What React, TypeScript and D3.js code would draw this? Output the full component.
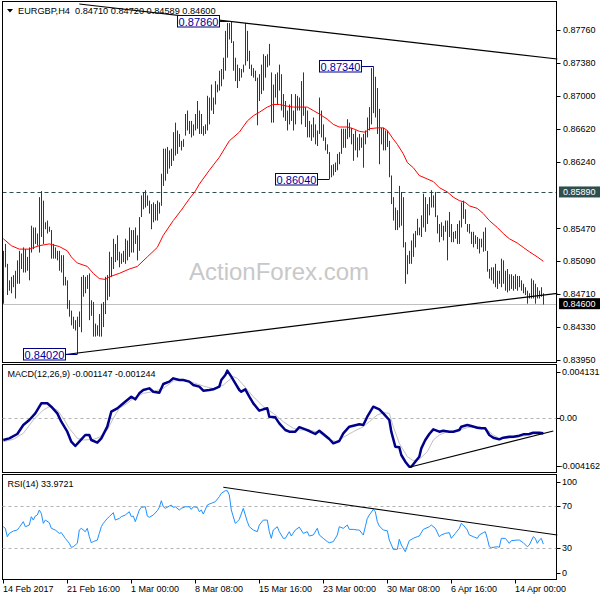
import React from 'react';
import * as d3 from 'd3';

// ---- price bars (H4 EURGBP), high / low of each bar ----
const highs = [
0.8521,0.8529,0.8506,0.8487,0.8491,0.8493,0.8498,0.8510,0.8521,0.8518,
0.8525,0.8523,0.8514,0.8525,0.8550,0.8548,0.8548,0.8541,0.8583,0.8590,
0.8579,0.8554,0.8556,0.8549,0.8545,0.8529,0.8525,0.8521,0.8521,0.8516,
0.8516,0.8491,0.8487,0.8464,0.8452,0.8445,0.8441,0.8445,0.8451,0.8491,
0.8493,0.8491,0.8493,0.8495,0.8464,0.8462,0.8437,0.8435,0.8448,0.8460,
0.8462,0.8491,0.8493,0.8520,0.8514,0.8535,0.8529,0.8539,0.8520,0.8518,
0.8521,0.8535,0.8533,0.8548,0.8545,0.8545,0.8548,0.8539,0.8560,0.8585,
0.8589,0.8591,0.8585,0.8579,0.8575,0.8577,0.8575,0.8579,0.8577,0.8610,
0.8639,0.8639,0.8641,0.8637,0.8639,0.8658,0.8669,0.8660,0.8656,0.8648,
0.8650,
0.8679,0.8683,0.8671,0.8671,0.8667,0.8679,0.8694,0.8683,0.8679,0.8665,
0.8667,0.8700,0.8698,0.8713,0.8698,0.8717,0.8713,0.8729,0.8731,0.8744,
0.8775,0.8784,0.8784,0.8786,0.8763,0.8744,0.8736,0.8732,0.8731,0.8736,
0.8784,0.8775,0.8752,0.8736,0.8732,0.8729,0.8721,0.8725,0.8736,0.8748,
0.8746,0.8748,0.8760,0.8727,0.8713,0.8725,0.8727,0.8736,0.8725,0.8702,
0.8694,0.8683,0.8690,0.8702,0.8683,0.8702,0.8700,0.8698,0.8717,0.8727,
0.8687,0.8683,0.8671,0.8667,0.8675,0.8667,0.8660,0.8698,0.8683,0.8667,
0.8652,0.8644,0.8635,0.8620,0.8621,0.8623,0.8633,0.8635,0.8662,0.8662,
0.8662,0.8673,0.8669,0.8663,0.8656,0.8660,0.8652,0.8656,0.8652,0.8656,
0.8660,0.8675,0.8687,0.8732,0.8734,0.8722,0.8709,0.8685,
0.8663,0.8663,0.8660,0.8660,0.8648,0.8608,0.8583,0.8571,0.8568,0.8596,
0.8589,0.8583,0.8531,0.8516,0.8521,0.8533,0.8541,0.8544,0.8558,0.8548,
0.8562,0.8587,0.8583,0.8575,0.8583,0.8591,0.8585,0.8589,0.8562,0.8552,
0.8554,0.8550,0.8556,0.8556,0.8566,0.8552,0.8543,0.8544,0.8552,0.8556,
0.8577,0.8579,0.8569,0.8552,0.8552,0.8543,0.8543,0.8539,0.8537,0.8535,
0.8535,0.8543,0.8548,0.8521,0.8500,0.8502,0.8502,0.8506,0.8498,0.8498,
0.8512,0.8510,0.8498,0.8500,0.8494,0.8494,0.8492,0.8494,0.8492,0.8492,
0.8487,0.8483,0.8479,0.8475,0.8472,0.8489,0.8487,0.8483,0.8479,0.8475,
0.8479,0.8472];
const lows = [
0.8460,0.8502,0.8470,0.8475,0.8472,0.8479,0.8466,0.8483,0.8483,0.8500,
0.8496,0.8496,0.8498,0.8487,0.8519,0.8523,0.8529,0.8527,0.8519,0.8537,
0.8529,0.8546,0.8541,0.8543,0.8512,0.8512,0.8512,0.8510,0.8498,0.8496,
0.8481,0.8481,0.8454,0.8445,0.8435,0.8431,0.8429,0.8402,0.8433,0.8427,
0.8468,0.8472,0.8477,0.8441,0.8446,0.8422,0.8422,0.8423,0.8422,0.8422,
0.8433,0.8448,0.8464,0.8468,0.8491,0.8500,0.8508,0.8510,0.8502,0.8506,
0.8508,0.8506,0.8510,0.8514,0.8519,0.8519,0.8529,0.8510,0.8521,0.8560,
0.8569,0.8571,0.8573,0.8564,0.8546,0.8554,0.8556,0.8556,0.8564,0.8573,
0.8596,0.8602,0.8610,0.8616,0.8619,0.8625,0.8631,0.8633,0.8641,0.8637,
0.8641,
0.8654,0.8660,0.8656,0.8652,0.8654,0.8660,0.8662,0.8656,0.8656,0.8654,
0.8656,0.8660,0.8667,0.8683,0.8679,0.8690,0.8704,0.8706,0.8711,0.8719,
0.8729,0.8744,0.8765,0.8761,0.8729,0.8717,0.8709,0.8717,0.8721,0.8727,
0.8735,0.8740,0.8731,0.8723,0.8721,0.8717,0.8666,0.8694,0.8702,0.8706,
0.8721,0.8733,0.8735,0.8669,0.8669,0.8698,0.8690,0.8706,0.8683,0.8675,
0.8671,0.8660,0.8667,0.8671,0.8660,0.8667,0.8683,0.8683,0.8667,0.8677,
0.8664,0.8652,0.8652,0.8648,0.8652,0.8644,0.8642,0.8656,0.8652,0.8648,
0.8637,0.8633,0.8604,0.8606,0.8608,0.8612,0.8614,0.8621,0.8633,0.8640,
0.8640,0.8650,0.8652,0.8644,0.8625,0.8637,0.8629,0.8637,0.8640,0.8617,
0.8644,0.8652,0.8660,0.8667,0.8680,0.8675,0.8656,0.8621,
0.8644,0.8637,0.8637,0.8641,0.8606,0.8575,0.8556,0.8545,0.8545,0.8548,
0.8550,0.8525,0.8483,0.8494,0.8506,0.8506,0.8514,0.8525,0.8539,0.8539,
0.8537,0.8548,0.8543,0.8552,0.8562,0.8571,0.8571,0.8560,0.8541,0.8531,
0.8537,0.8533,0.8543,0.8510,0.8537,0.8531,0.8531,0.8535,0.8529,0.8529,
0.8548,0.8558,0.8552,0.8543,0.8541,0.8529,0.8525,0.8529,0.8523,0.8518,
0.8525,0.8520,0.8521,0.8497,0.8489,0.8487,0.8483,0.8479,0.8477,0.8483,
0.8479,0.8483,0.8475,0.8473,0.8475,0.8477,0.8475,0.8477,0.8475,0.8479,
0.8475,0.8472,0.8470,0.8460,0.8466,0.8466,0.8466,0.8460,0.8466,0.8466,
0.8468,0.8459];

// ---- moving average (red) ----
const maIdx = [0,4,8,13,18,23,28,32,34,37,42,45,48,51,53,58,63,67,72,77,80,85,89,93,96,98,103,108,113,118,122,125,128,132,135,138,142,145,148,152,155,158,162,165,168,172,175,178,181,183,187,190,192,195,197,200,202,205,208,212,215,218,222,225,228,231,233,237,240,243,247,250,253,257,260,263,267,270];
const maVal = [0.8535,0.8527,0.8523,0.8523,0.8527,0.8529,0.8526,0.8521,0.8514,0.8507,0.8503,0.8495,0.8489,0.8488,0.8491,0.8495,0.8500,0.8503,0.8514,0.8525,0.8539,0.8556,0.8568,0.8581,0.8590,0.8598,0.8614,0.8629,0.8648,0.8658,0.8671,0.8677,0.8681,0.8687,0.8690,0.8690,0.8688,0.8687,0.8687,0.8687,0.8683,0.8679,0.8673,0.8667,0.8664,0.8664,0.8662,0.8659,0.8658,0.8662,0.8663,0.8663,0.8660,0.8650,0.8644,0.8633,0.8623,0.8617,0.8608,0.8604,0.8601,0.8594,0.8589,0.8583,0.8579,0.8577,0.8573,0.8570,0.8564,0.8556,0.8548,0.8541,0.8535,0.8530,0.8525,0.8520,0.8514,0.8509];

// ---- MACD(12,26,9) ----
const macdIdx = [0,3,7,10,13,16,19,22,24,27,29,32,34,36,38,41,43,44,47,49,52,54,57,59,62,64,66,68,70,73,75,78,80,83,85,88,90,93,95,98,100,103,105,108,109,111,112,114,116,118,119,121,123,125,128,130,132,133,136,138,141,143,146,148,151,153,156,158,160,163,165,168,170,173,175,178,180,182,185,188,190,193,194,196,198,199,201,203,204,206,208,209,211,213,215,218,220,223,225,228,229,232,234,237,239,241,243,245,248,250,253,255,258,260,263,265,268,270];
const macdVal = [-0.001667,-0.001539,-0.001206,-0.000515,-0.000131,0.000381,0.001149,0.001149,0.000893,0.000381,-0.000259,-0.001027,-0.001795,-0.002127,-0.001795,-0.001283,-0.001283,-0.001667,-0.001872,-0.001539,-0.000643,0.000509,0.000765,0.001021,0.001405,0.001661,0.001457,0.001917,0.002173,0.002301,0.002045,0.001969,0.002634,0.002813,0.003069,0.002941,0.002941,0.002813,0.002557,0.002429,0.002122,0.002173,0.002224,0.002429,0.002941,0.003325,0.003658,0.003197,0.002685,0.002173,0.002045,0.002224,0.001661,0.001149,0.000586,0.000689,0.000765,0.000125,0.000074,-0.000387,-0.000899,-0.001027,-0.001027,-0.000680,-0.000848,-0.000976,-0.001206,-0.000950,-0.001206,-0.001590,-0.001923,-0.001744,-0.001155,-0.000643,-0.000566,-0.000464,-0.000515,0.000125,0.000893,0.000689,0.000381,-0.000131,-0.001027,-0.002179,-0.002230,-0.002819,-0.003331,-0.003715,-0.003715,-0.003331,-0.002947,-0.002307,-0.001667,-0.001206,-0.000848,-0.001027,-0.000950,-0.001027,-0.001027,-0.000899,-0.000643,-0.000515,-0.000592,-0.000720,-0.000771,-0.000771,-0.001283,-0.001488,-0.001616,-0.001488,-0.001411,-0.001411,-0.001335,-0.001232,-0.001206,-0.001104,-0.001104,-0.001147];
const sigIdx = [0,5,10,15,20,23,27,30,33,37,40,45,48,52,55,58,62,65,70,75,80,85,90,95,100,105,110,115,117,120,125,130,135,140,145,148,153,158,163,167,170,175,180,183,187,190,193,195,198,202,205,208,212,215,218,222,225,228,232,235,238,242,245,248,252,255,258,262,265,270];
const sigVal = [-0.001795,-0.001616,-0.001155,-0.000131,0.000637,0.000893,0.000637,0.0,-0.000771,-0.001539,-0.001667,-0.001616,-0.001462,-0.000899,0.0,0.000765,0.001149,0.001533,0.001917,0.002045,0.002301,0.002864,0.002941,0.002736,0.002480,0.002275,0.002557,0.003197,0.003069,0.002557,0.001661,0.000893,0.000381,-0.000259,-0.000771,-0.000899,-0.000899,-0.001104,-0.001667,-0.001795,-0.001462,-0.001027,-0.000643,-0.000259,0.000253,0.000431,0.000381,-0.000643,-0.001923,-0.002947,-0.003254,-0.003151,-0.002563,-0.001667,-0.001283,-0.001027,-0.001027,-0.000899,-0.000720,-0.000643,-0.000643,-0.000899,-0.001283,-0.001539,-0.001539,-0.001488,-0.001411,-0.001309,-0.001206,-0.001244];

// ---- RSI(14) ----
const rsiIdx = [0,1,2,3,5,7,8,10,11,13,14,15,16,17,18,19,20,21,23,24,26,28,29,31,33,34,35,37,38,39,41,42,43,44,45,47,48,49,50,52,53,55,56,58,59,61,63,64,65,66,68,69,71,72,73,75,77,78,79,80,81,83,84,85,86,88,89,91,93,94,95,97,98,99,100,102,103,104,106,108,109,111,112,113,114,116,117,118,120,122,123,125,127,128,130,132,133,134,135,137,138,140,141,143,144,146,148,150,152,153,155,157,158,160,162,163,165,167,168,170,172,173,175,177,178,180,181,182,183,185,186,187,188,190,192,193,195,197,198,199,201,202,203,205,207,208,210,213,214,216,218,219,221,223,224,226,228,229,230,232,233,235,237,238,240,241,242,243,244,247,248,249,251,253,254,257,258,260,262,263,265,266,267,268,269,270];
const rsiVal = [50.4,48.9,41.0,44.1,46.3,47.3,49.8,55.2,50.4,52.0,59.9,56.7,60.5,61.5,66.2,63.0,53.6,56.7,54.2,48.9,47.3,44.1,44.8,39.4,34.7,30.9,31.5,34.7,47.3,48.9,45.7,48.9,41.0,35.3,36.3,37.8,44.1,50.4,53.6,58.3,59.9,63.7,56.7,58.3,59.9,61.5,64.6,59.9,60.5,55.2,66.2,68.7,69.3,60.5,59.3,61.5,65.6,68.7,75.0,69.3,67.8,70.0,70.9,68.7,69.3,66.2,67.8,69.3,69.3,66.8,69.3,68.7,64.6,66.2,62.4,70.9,71.9,72.5,74.1,78.8,82.0,84.5,84.5,80.4,66.2,53.6,55.2,57.4,67.8,55.2,50.4,47.3,45.7,52.0,56.7,56.7,45.7,39.4,47.3,50.4,45.7,39.4,39.4,45.7,41.6,47.3,50.0,44.1,45.7,41.6,42.6,48.9,42.6,39.4,36.3,35.3,36.3,42.6,50.4,48.9,52.0,47.9,47.9,47.3,47.3,42.6,50.4,58.3,61.5,66.8,64.6,55.2,51.1,47.3,46.6,37.8,29.0,29.0,38.5,33.1,26.8,32.2,37.2,39.4,41.0,41.6,47.9,50.4,52.0,48.9,41.0,42.6,44.1,44.8,39.4,44.1,48.9,53.6,52.0,47.3,42.6,41.0,39.4,42.6,44.8,45.7,39.4,31.5,30.6,31.5,30.9,39.4,39.4,34.7,37.2,37.8,37.8,35.3,31.5,33.1,41.0,39.4,34.7,37.8,39.4,33.97];

// ---- axes ----
const timeTickIdx = [0,32,64,96,128,160,192,224,256];
const timeTickLabels = ['14 Feb 2017','21 Feb 16:00','1 Mar 00:00','8 Mar 08:00','15 Mar 16:00','23 Mar 00:00','30 Mar 08:00','6 Apr 16:00','14 Apr 00:00'];
const priceTicks = [0.8776,0.8738,0.8700,0.8662,0.8624,0.8547,0.8509,0.8471,0.8433,0.8395];
const priceTickLabels = ['0.87760','0.87380','0.87000','0.86620','0.86240','0.85470','0.85090','0.84710','0.84330','0.83950'];
const macdTicks = [0.004131,0,-0.004162];
const macdTickLabels = ['0.004131','0.00','-0.004162'];
const rsiTicks = [100,70,30,0];
const rsiLevels = [70,30];

// ---- annotations and lines ----
const markIdx = [114,185,163,37];
const markPrice = [0.8786,0.8734,0.8604,0.8402];
const markLabels = ['0.87860','0.87340','0.86040','0.84020'];
const resistPrice = 0.8589;
const lastPrice = 0.8460;
const topLineIdx = [38,277];
const topLineVal = [0.8806,0.87425];
const botLineIdx = [14,277];
const botLineVal = [0.83964,0.8472];
const macdLineIdx = [203,275];
const macdLineVal = [-0.003763,-0.000975];
const rsiLineIdx = [110,277];
const rsiLineVal = [87.7,42.6];

const FONT = "'Liberation Sans', Arial, sans-serif";

export default function App() {
  const left = 2.5, right = 556.5;
  const mainTop = 1.5, mainBot = 362.5;
  const macdTop = 364.5, macdBot = 472.5;
  const rsiTop = 474.5, rsiBot = 579.5;
  const n = highs.length;
  const x = d3.scaleLinear().domain([0, n - 1]).range([3.3, 543.3]);
  const px = (i: number) => Math.round(x(i)) + 0.5;
  const y = d3.scaleLinear().domain([0.83921, 0.88089]).range([mainBot, mainTop]);
  const ym = d3.scaleLinear().domain([-0.004162, 0.004131]).range([macdBot, macdTop]);
  const yr = d3.scaleLinear().domain([0, 100]).range([580, 474.3]);

  const line = d3.line<[number, number]>().x(d => d[0]).y(d => d[1]);
  const maPath = line(maIdx.map((d, i) => [x(d), y(maVal[i])]));
  const macdPath = line(macdIdx.map((d, i) => [x(d), ym(macdVal[i])]));
  const sigPath = line(sigIdx.map((d, i) => [x(d), ym(sigVal[i])]));
  const rsiPath = line(rsiIdx.map((d, i) => [x(d), yr(rsiVal[i])]));

  const clampLbl = (v: number, top: number, bot: number) => Math.min(Math.max(v, top + 7), bot - 7);

  return (
    <svg width={600} height={600} style={{ position: 'absolute', left: 0, top: 0, background: '#fff' }} fontFamily={FONT}>
      <rect x={0} y={0} width={600} height={600} fill="#fff" />
      {/* watermark */}
      <text x={189} y={280} fontSize={24} fill="#c8c8c8">ActionForex.com</text>

      {/* horizontal levels */}
      <line x1={left} x2={right} y1={Math.round(y(lastPrice)) + 0.5} y2={Math.round(y(lastPrice)) + 0.5} stroke="#c0c0c0" />
      <line x1={left} x2={right} y1={Math.round(y(resistPrice)) + 0.5} y2={Math.round(y(resistPrice)) + 0.5} stroke="#2f4f4f" strokeDasharray="4,3" />

      {/* bars */}
      {highs.map((h, i) => (
        <line key={i} x1={px(i)} x2={px(i)} y1={y(h)} y2={y(lows[i])} stroke="#183d5c" strokeWidth={1} />
      ))}

      {/* MA */}
      <path d={maPath || ''} fill="none" stroke="#ff0000" strokeWidth={1} />

      {/* trend lines */}
      <line x1={x(topLineIdx[0])} y1={y(topLineVal[0])} x2={x(topLineIdx[1])} y2={y(topLineVal[1])} stroke="#000" strokeWidth={1.2} />
      <line x1={x(botLineIdx[0])} y1={y(botLineVal[0])} x2={x(botLineIdx[1])} y2={y(botLineVal[1])} stroke="#000" strokeWidth={1.2} />

      {/* annotations */}
      {markIdx.map((idx, i) => {
        const bx = px(idx);
        const yy = Math.round(y(markPrice[i])) + 0.5;
        const r = bx - 12;
        return (
          <g key={i}>
            <line x1={r} x2={bx} y1={yy} y2={yy} stroke="#000080" />
            <rect x={r - 42} y={yy - 6} width={42} height={11.5} fill="#fff" stroke="#000080" />
            <text x={r - 21} y={yy + 4} fontSize={11} fill="#0000a0" textAnchor="middle">{markLabels[i]}</text>
          </g>
        );
      })}

      {/* title */}
      <polygon points="7,9 13,9 10,12.5" fill="#000" />
      <text x={18} y={13.7} fontSize={9.2} fill="#000" xmlSpace="preserve">EURGBP,H4  0.84710 0.84720 0.84589 0.84600</text>

      {/* panel frames */}
      <rect x={left} y={mainTop} width={right - left} height={mainBot - mainTop} fill="none" stroke="#000" />
      <rect x={left} y={macdTop} width={right - left} height={macdBot - macdTop} fill="none" stroke="#000" />
      <rect x={left} y={rsiTop} width={right - left} height={rsiBot - rsiTop} fill="none" stroke="#000" />

      {/* price axis */}
      {priceTicks.map((p, i) => (
        <g key={i}>
          <line x1={right} x2={right + 4} y1={Math.round(y(p)) + 0.5} y2={Math.round(y(p)) + 0.5} stroke="#000" />
          <text x={563} y={y(p) + 3.2} fontSize={9} fill="#000">{priceTickLabels[i]}</text>
        </g>
      ))}
      <rect x={559} y={y(resistPrice) - 5.5} width={41} height={11} fill="#2f4f4f" />
      <text x={563} y={y(resistPrice) + 3.2} fontSize={9} fill="#fff">{resistPrice.toFixed(5)}</text>
      <rect x={559} y={y(lastPrice) - 5.5} width={41} height={11} fill="#000" />
      <text x={563} y={y(lastPrice) + 3.2} fontSize={9} fill="#fff">{lastPrice.toFixed(5)}</text>

      {/* MACD */}
      <line x1={left} x2={right} y1={Math.round(ym(0)) + 0.5} y2={Math.round(ym(0)) + 0.5} stroke="#b4b4b4" strokeDasharray="3,3" />
      <path d={sigPath || ''} fill="none" stroke="#c0c0c0" strokeWidth={1} />
      <path d={macdPath || ''} fill="none" stroke="#00008b" strokeWidth={2.5} strokeLinejoin="round" />
      <line x1={x(macdLineIdx[0])} y1={ym(macdLineVal[0])} x2={x(macdLineIdx[1])} y2={ym(macdLineVal[1])} stroke="#000" strokeWidth={1.1} />
      <text x={7.5} y={377} fontSize={9} fill="#000">MACD(12,26,9) -0.001147 -0.001244</text>
      {macdTicks.map((v, i) => {
        const yy = clampLbl(ym(v), macdTop, macdBot);
        return (
          <g key={i}>
            <line x1={right} x2={right + 4} y1={Math.round(yy) + 0.5} y2={Math.round(yy) + 0.5} stroke="#000" />
            <text x={i === 0 ? 562 : 559.5} y={yy + 3.2} fontSize={9} fill="#000">{macdTickLabels[i]}</text>
          </g>
        );
      })}

      {/* RSI */}
      {rsiLevels.map((v, i) => (
        <line key={i} x1={left} x2={right} y1={Math.round(yr(v)) + 0.5} y2={Math.round(yr(v)) + 0.5} stroke="#b4b4b4" strokeDasharray="3,3" />
      ))}
      <path d={rsiPath || ''} fill="none" stroke="#1e90ff" strokeWidth={1} />
      <line x1={x(rsiLineIdx[0])} y1={yr(rsiLineVal[0])} x2={x(rsiLineIdx[1])} y2={yr(rsiLineVal[1])} stroke="#000" strokeWidth={1.1} />
      <text x={7.5} y={487} fontSize={9} fill="#000">RSI(14) 33.9721</text>
      {rsiTicks.map((v, i) => {
        const yy = clampLbl(yr(v), rsiTop, rsiBot);
        return (
          <g key={i}>
            <line x1={right} x2={right + 4} y1={Math.round(yy) + 0.5} y2={Math.round(yy) + 0.5} stroke="#000" />
            <text x={562} y={yy + 3.2} fontSize={9} fill="#000">{String(v)}</text>
          </g>
        );
      })}

      {/* time axis */}
      {timeTickIdx.map((t, i) => (
        <g key={i}>
          <line x1={px(t)} x2={px(t)} y1={rsiBot} y2={rsiBot + 4} stroke="#000" />
          <text x={px(t) - 0.5} y={592} fontSize={9} fill="#000">{timeTickLabels[i]}</text>
        </g>
      ))}
    </svg>
  );
}
